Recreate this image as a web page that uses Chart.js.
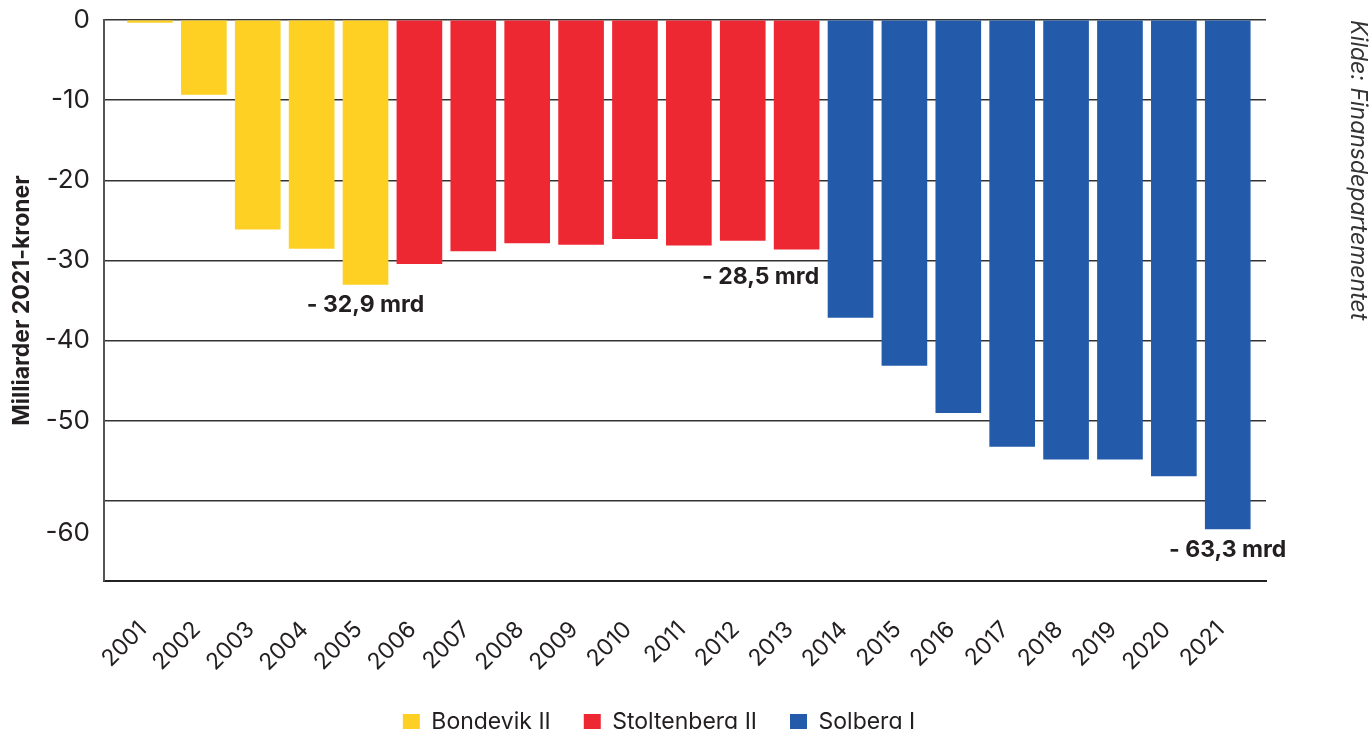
<!DOCTYPE html>
<html>
<head>
    <title>Milliarder 2021-kroner</title>
    <script src="https://cdn.jsdelivr.net/npm/chart.js"></script>
    <style>
        html, body { margin: 0; padding: 0; background: #fff; }
        #wrap { width: 1371px; height: 729px; }
    </style>
</head>
<body>
    <div id="wrap"><canvas id="chart"></canvas></div>

    <script>
        // data
        const years = ['2001', '2002', '2003', '2004', '2005', '2006', '2007', '2008', '2009', '2010', '2011',
                       '2012', '2013', '2014', '2015', '2016', '2017', '2018', '2019', '2020', '2021'];
        const values = [-0.3, -9.3, -26.1, -28.5, -33.0, -30.4, -28.8, -27.8, -28.0, -27.3, -28.1,
                        -27.5, -28.6, -37.1, -43.1, -49.0, -53.2, -54.8, -54.8, -56.9, -63.5];
        const governments = ['Bondevik II', 'Stoltenberg II', 'Solberg I'];
        const govColors = ['#FDD023', '#EE2833', '#235BAA'];
        const yearGov = [0, 0, 0, 0, 0, 1, 1, 1, 1, 1, 1, 1, 1, 2, 2, 2, 2, 2, 2, 2, 2];

        const yGridValues = [0, -10, -20, -30, -40, -50, -60];
        const yTickLabels = ['0', '-10', '-20', '-30', '-40', '-50', '-60'];
        const yLabelValues = [0, -10, -20, -30, -40, -50, -64]; // the -60 label sits low in the original

        const noteYears = ['2005', '2013', '2021'];
        const noteTexts = ['- 32,9 mrd', '- 28,5 mrd', '- 63,3 mrd'];
        const noteAlign = ['center', 'right', 'center'];
        const sourceText = 'Kilde: Finansdepartementet';

        const FONT = 'Inter, "Liberation Sans", sans-serif';
        const TEXT = '#231f20';

        const datasets = governments.map((name, g) => ({
            label: name,
            backgroundColor: govColors[g],
            data: years.map((y, i) => ({ x: i + 1, y: values[i], g: yearGov[i] }))
                       .filter(p => p.g === g)
                       .map(p => ({ x: p.x, y: p.y }))
        }));

        const notesPlugin = {
            id: 'notes',
            afterDatasetsDraw(chart) {
                const ctx = chart.ctx;
                ctx.save();
                ctx.font = 'bold 23px ' + FONT;
                ctx.fillStyle = TEXT;
                ctx.textBaseline = 'middle';
                noteYears.forEach((yr, k) => {
                    const idx = years.indexOf(yr);
                    const g = yearGov[idx];
                    const meta = chart.getDatasetMeta(g);
                    const pos = datasets[g].data.findIndex(p => p.x === idx + 1);
                    const bar = meta.data[pos];
                    if (noteAlign[k] === 'right') {
                        ctx.textAlign = 'right';
                        ctx.fillText(noteTexts[k], bar.x + bar.width / 2, bar.y + 28);
                    } else {
                        ctx.textAlign = 'center';
                        ctx.fillText(noteTexts[k], bar.x, bar.y + 21);
                    }
                });
                // source, rotated along the right edge
                ctx.translate(1358, chart.chartArea.top);
                ctx.rotate(Math.PI / 2);
                ctx.font = 'italic 23px ' + FONT;
                ctx.fillStyle = '#333';
                ctx.textAlign = 'left';
                ctx.fillText(sourceText, 0, 0);
                ctx.restore();
            }
        };

        new Chart(document.getElementById('chart'), {
            type: 'bar',
            data: { datasets: datasets },
            options: {
                responsive: true,
                maintainAspectRatio: false,
                animation: false,
                layout: { padding: { top: 20, left: 0, right: 53, bottom: -15 } },
                datasets: { bar: { grouped: false, barThickness: 45 } },
                plugins: {
                    legend: {
                        position: 'bottom',
                        labels: {
                            boxWidth: 17,
                            boxHeight: 17,
                            padding: 33,
                            color: TEXT,
                            font: { family: FONT, size: 23 }
                        }
                    },
                    tooltip: { enabled: false }
                },
                scales: {
                    x: {
                        type: 'linear',
                        offset: false,
                        bounds: 'data',
                        min: 0.147,
                        max: 21.71,
                        grid: { display: false },
                        border: { display: true, color: '#222', width: 2 },
                        afterFit: (s) => { s.height = 97; },
                        afterBuildTicks: (s) => {
                            s.ticks = years.map((y, i) => ({ value: i + 1 }));
                        },
                        ticks: {
                            autoSkip: false,
                            minRotation: 45,
                            maxRotation: 45,
                            padding: 27,
                            labelOffset: -7,
                            color: TEXT,
                            font: { family: FONT, size: 23 },
                            callback: (v) => years[Math.round(v) - 1] || ''
                        }
                    },
                    y: {
                        min: -70,
                        max: 0,
                        afterFit: (s) => { s.width = 104; },
                        afterBuildTicks: (s) => {
                            const vals = Array.from(new Set(yGridValues.concat(yLabelValues))).sort((a, b) => b - a);
                            s.ticks = vals.map(v => ({ value: v }));
                        },
                        grid: {
                            drawTicks: true,
                            tickLength: 14,
                            tickColor: 'rgba(0,0,0,0)',
                            lineWidth: 1.5,
                            color: (c) => (c.tick && yGridValues.includes(c.tick.value)) ? '#333' : 'rgba(0,0,0,0)'
                        },
                        border: { display: true, color: '#555', width: 2 },
                        ticks: {
                            padding: 0,
                            color: TEXT,
                            font: { family: FONT, size: 26 },
                            callback: (v) => {
                                const i = yLabelValues.indexOf(v);
                                return i >= 0 ? yTickLabels[i] : '';
                            }
                        },
                        title: {
                            display: true,
                            text: 'Milliarder 2021-kroner',
                            color: TEXT,
                            padding: { top: 8, bottom: 0 },
                            font: { family: FONT, size: 23, weight: 'bold' }
                        }
                    },
                    y2: {
                        position: 'right',
                        display: true,
                        grid: { display: false },
                        border: { display: false },
                        ticks: { display: false },
                        afterFit: (s) => { s.width = 52; }
                    }
                }
            },
            plugins: [notesPlugin]
        });
    </script>
</body>
</html>
